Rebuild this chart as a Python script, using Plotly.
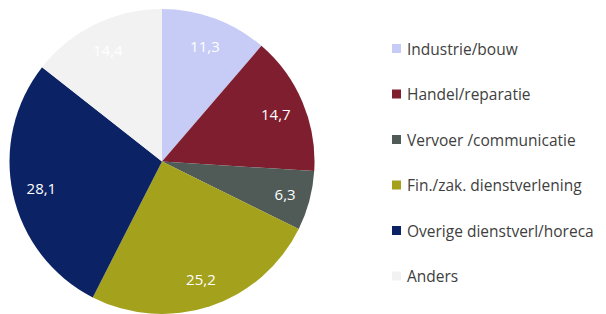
import plotly.graph_objects as go

categories = ["Industrie/bouw", "Handel/reparatie", "Vervoer /communicatie",
              "Fin./zak. dienstverlening", "Overige dienstverl/horeca", "Anders"]
values = [11.3, 14.7, 6.3, 25.2, 28.1, 14.4]
colors = ["#C6CCF6", "#7E1E2E", "#505A56", "#A4A11C", "#0B2364", "#F2F2F2"]

W, H = 606, 314
pie_domain = dict(x=[9 / W, 315 / W], y=[0, 305 / H])

fig = go.Figure()
# the pie itself
fig.add_trace(go.Pie(
    labels=categories,
    values=values,
    marker=dict(colors=colors, line=dict(width=0)),
    sort=False,
    direction="clockwise",
    rotation=0,
    textinfo="none",
    domain=pie_domain,
    showlegend=False,
    hoverinfo="label+value",
))
# transparent ring carrying the data labels near the outer edge
fig.add_trace(go.Pie(
    labels=categories,
    values=values,
    marker=dict(colors=["rgba(0,0,0,0)"] * len(values), line=dict(width=0)),
    sort=False,
    direction="clockwise",
    rotation=0,
    hole=0.62,
    texttemplate="%{value:.1f}",
    textposition="inside",
    insidetextorientation="horizontal",
    textfont=dict(family="Open Sans", size=15, color="white"),
    domain=pie_domain,
    showlegend=False,
    hoverinfo="skip",
))

# legend built from the category list
leg_x0 = 392      # marker left (px)
leg_y0 = 48.5     # first item centre (px)
leg_gap = 45.5    # spacing (px)
msize = 9
shapes = []
annotations = []
for i, (cat, col) in enumerate(zip(categories, colors)):
    yc = leg_y0 + i * leg_gap
    shapes.append(dict(
        type="rect", xref="paper", yref="paper",
        x0=leg_x0 / W, x1=(leg_x0 + msize) / W,
        y0=1 - (yc + msize / 2) / H, y1=1 - (yc - msize / 2) / H,
        fillcolor=col, line=dict(width=0),
    ))
    annotations.append(dict(
        text=cat, xref="paper", yref="paper",
        x=(leg_x0 + msize + 4) / W, y=1 - yc / H,
        xanchor="left", yanchor="middle", showarrow=False,
        font=dict(family="Open Sans", size=15.5, color="#404040"),
    ))

fig.update_layout(
    width=W, height=H,
    margin=dict(l=0, r=0, t=0, b=0),
    paper_bgcolor="white",
    plot_bgcolor="white",
    separators=",.",
    shapes=shapes,
    annotations=annotations,
)

fig.write_html("out.html",
               config={"displayModeBar": False},
               post_script="document.body.style.margin='0';document.body.style.overflow='hidden';")
